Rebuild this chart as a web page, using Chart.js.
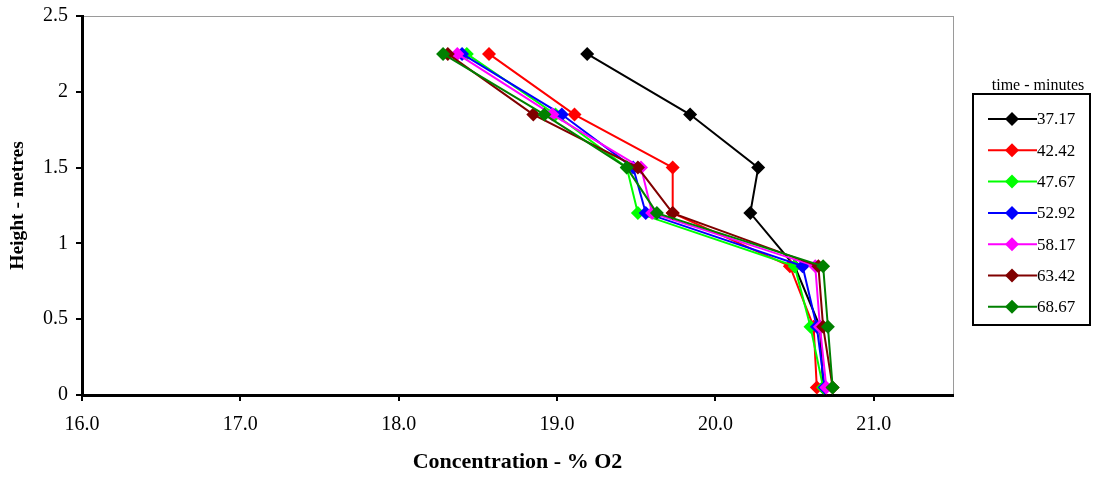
<!DOCTYPE html>
<html>
<head>
<meta charset="utf-8">
<script src="https://cdn.jsdelivr.net/npm/chart.js@4/dist/chart.umd.min.js"></script>
<style>
  body { margin: 0; background: #fff; }
  #wrap { position: relative; width: 1102px; height: 477px; }
</style>
</head>
<body>
<div id="wrap"><canvas id="o2-chart" width="1102" height="477"></canvas></div>
<script>
// hauteurs de mesure (m)
const heights = [2.25, 1.85, 1.5, 1.2, 0.85, 0.45, 0.05];

// temps (minutes) = noms des séries
const times = ["37.17", "42.42", "47.67", "52.92", "58.17", "63.42", "68.67"];

// concentration O2 (%) pour chaque hauteur
const conc37 = [19.19, 19.84, 20.27, 20.22, 20.50, 20.66, 20.68];
const conc42 = [18.57, 19.11, 19.73, 19.73, 20.47, 20.62, 20.64];
const conc47 = [18.43, 18.99, 19.44, 19.51, 20.50, 20.60, 20.68];
const conc52 = [18.40, 19.03, 19.48, 19.56, 20.55, 20.64, 20.69];
const conc58 = [18.37, 18.97, 19.53, 19.60, 20.63, 20.66, 20.70];
const conc63 = [18.31, 18.85, 19.51, 19.73, 20.65, 20.68, 20.74];
const conc68 = [18.28, 18.92, 19.44, 19.63, 20.68, 20.71, 20.74];

const xTicks = [16, 17, 18, 19, 20, 21];
const yTicks = [0, 0.5, 1, 1.5, 2, 2.5];

const allConc = [conc37, conc42, conc47, conc52, conc58, conc63, conc68];
const colors = ["#000000", "#ff0000", "#00ff00", "#0000ff", "#ff00ff", "#800000", "#008000"];

const FONT = '"Liberation Serif", "Times New Roman", serif';

// cadre gris (haut et droite) autour de la zone de tracé
const frameBorder = {
    id: 'frameBorder',
    beforeDraw(chart) {
        const { ctx, chartArea: a } = chart;
        ctx.save();
        ctx.strokeStyle = "#9a9a9a";
        ctx.lineWidth = 1;
        ctx.strokeRect(a.left + 0.5, a.top + 0.5, a.right - a.left, a.bottom - a.top);
        ctx.restore();
    }
};

// légende façon Excel, dans un cadre à droite
const boxLegend = {
    id: 'boxLegend',
    afterDraw(chart) {
        const ctx = chart.ctx;
        ctx.save();
        ctx.fillStyle = "#000";
        ctx.font = '16px ' + FONT;
        ctx.textAlign = 'center';
        ctx.textBaseline = 'middle';
        ctx.fillText("time - minutes", 1038, 86);

        ctx.lineWidth = 2;
        ctx.strokeStyle = "#000";
        ctx.strokeRect(973, 94, 117, 231);

        ctx.font = '17px ' + FONT;
        ctx.textAlign = 'left';
        chart.data.datasets.forEach((ds, i) => {
            const y = 119 + i * 31.3;
            ctx.strokeStyle = ds.borderColor;
            ctx.lineWidth = 2;
            ctx.beginPath();
            ctx.moveTo(988, y);
            ctx.lineTo(1037, y);
            ctx.stroke();
            ctx.fillStyle = ds.borderColor;
            ctx.beginPath();
            ctx.moveTo(1012, y - 7);
            ctx.lineTo(1019, y);
            ctx.lineTo(1012, y + 7);
            ctx.lineTo(1005, y);
            ctx.closePath();
            ctx.fill();
            ctx.fillStyle = "#000";
            ctx.fillText(ds.label, 1037, y + 1);
        });
        ctx.restore();
    }
};

new Chart(document.getElementById("o2-chart"), {
    type: "scatter",
    data: {
        datasets: allConc.map((conc, i) => ({
            label: times[i],
            data: conc.map((c, k) => ({ x: c, y: heights[k] })),
            showLine: true,
            borderColor: colors[i],
            backgroundColor: colors[i],
            borderWidth: 2,
            pointStyle: 'rectRot',
            pointRadius: 7,
            pointBorderWidth: 0,
            order: allConc.length - i
        }))
    },
    plugins: [frameBorder, boxLegend],
    options: {
        responsive: false,
        animation: false,
        layout: { padding: { top: 16, right: 149, left: 0, bottom: 0 } },
        plugins: { legend: { display: false }, tooltip: { enabled: false } },
        scales: {
            x: {
                type: 'linear',
                min: 16,
                max: 21.5,
                afterBuildTicks: s => { s.ticks = xTicks.map(v => ({ value: v })); },
                afterFit: s => { s.height = 82; s.paddingLeft = 0; s.paddingRight = 0; },
                ticks: {
                    color: "#000",
                    font: { family: FONT, size: 20 },
                    padding: 12,
                    callback: v => v.toFixed(1)
                },
                grid: { drawOnChartArea: false, color: "#000", lineWidth: 2, tickLength: 6 },
                border: { color: "#000", width: 3 },
                title: {
                    display: true,
                    text: "Concentration - % O2",
                    color: "#000",
                    font: { family: FONT, size: 22, weight: 'bold' },
                    padding: { top: 0, bottom: 1 }
                }
            },
            y: {
                type: 'linear',
                min: 0,
                max: 2.5,
                afterBuildTicks: s => { s.ticks = yTicks.map(v => ({ value: v })); },
                afterFit: s => { s.width = 82; s.paddingTop = 0; s.paddingBottom = 0; },
                ticks: {
                    color: "#000",
                    font: { family: FONT, size: 20 },
                    padding: 8,
                    callback: v => String(v)
                },
                grid: { drawOnChartArea: false, color: "#000", lineWidth: 2, tickLength: 6 },
                border: { color: "#000", width: 3 },
                title: {
                    display: true,
                    text: "Height - metres",
                    color: "#000",
                    font: { family: FONT, size: 19.5, weight: 'bold' },
                    padding: { top: 6, bottom: 0 }
                }
            }
        }
    }
});
</script>
</body>
</html>
